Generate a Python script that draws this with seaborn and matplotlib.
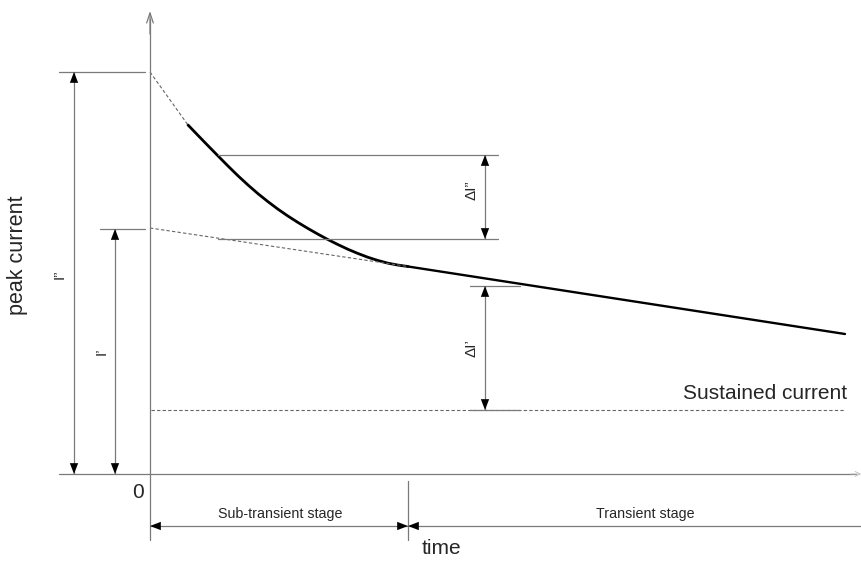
import matplotlib
matplotlib.use("Agg")
import matplotlib.pyplot as plt
import seaborn as sns

sns.set_theme(style="white")
plt.rcParams['font.family'] = ['Liberation Sans', 'DejaVu Sans']

# ---- data (schematic units: time along x, current along y) ----
sub_t = [38, 48, 58, 68, 78, 88, 98, 108, 118, 128, 138, 148,
         158, 168, 178, 188, 198, 208, 218, 228, 238, 248, 258]
sub_i = [349, 338.6, 328.3, 318.1, 308, 298.2, 289, 280.3, 272.3, 264.8, 257.9, 251.5,
         245.5, 239.8, 234.4, 229.4, 224.7, 220.5, 216.7, 213.5, 210.8, 208.9, 207.5]
tr_t = [258, 695]
tr_i = [207.5, 140]
ext_sub_t = [0, 38]
ext_sub_i = [402, 349]
ext_tr_t = [0, 258]
ext_tr_i = [246, 207.5]
i_peak2 = 402      # I''
i_peak1 = 245      # I'
i_sust = 64        # sustained current
t_stage = 258      # end of sub-transient stage
t_end = 712
dI2_levels = [319, 235]
dI1_levels = [188, 64]
stage_labels = ["Sub-transient stage", "Transient stage"]

fig = plt.figure(figsize=(8.62, 5.63), dpi=100)
ax = fig.add_axes([0, 0, 1, 1])
ax.set_xlim(-150, 712)
ax.set_ylim(-89, 474)
ax.axis("off")

gray = "#7a7a7a"
thin = 0.9

# curves
sns.lineplot(x=sub_t, y=sub_i, ax=ax, color="black", linewidth=2.0, sort=False)
sns.lineplot(x=tr_t, y=tr_i, ax=ax, color="black", linewidth=1.7, sort=False)
sns.lineplot(x=ext_sub_t, y=ext_sub_i, ax=ax, color="#666666", linewidth=0.8,
             linestyle=(0, (3, 2)), sort=False)
sns.lineplot(x=ext_tr_t, y=ext_tr_i, ax=ax, color="#666666", linewidth=0.8,
             linestyle=(0, (3, 2)), sort=False)
ax.plot([1, 695], [i_sust, i_sust], color="#666666", lw=0.8, ls=(0, (3, 2)))

# axes
ax.plot([0, 0], [-66, 455], color=gray, lw=thin)
ax.annotate("", xy=(0, 463), xytext=(0, 440),
            arrowprops=dict(arrowstyle="->,head_length=0.6,head_width=0.2",
                            color=gray, lw=thin, shrinkA=0, shrinkB=0))
ax.plot([-91, 706], [0, 0], color=gray, lw=thin)
ax.annotate("", xy=(711, 0), xytext=(700, 0),
            arrowprops=dict(arrowstyle="->,head_length=0.3,head_width=0.15",
                            color="#bbbbbb", lw=0.6, shrinkA=0, shrinkB=0))

# level lines
ax.plot([-91, -5], [i_peak2, i_peak2], color=gray, lw=thin)
ax.plot([-50, -5], [i_peak1, i_peak1], color=gray, lw=thin)
for lv in dI2_levels:
    ax.plot([68, 348], [lv, lv], color=gray, lw=thin)
for lv in dI1_levels:
    ax.plot([320, 370], [lv, lv], color=gray, lw=thin)


def dim_arrow(p0, p1, style="<|-|>,head_length=0.65,head_width=0.25"):
    ax.annotate("", xy=p1, xytext=p0,
                arrowprops=dict(arrowstyle=style, color="black", lw=0,
                                shrinkA=0, shrinkB=0))
    ax.plot([p0[0], p1[0]], [p0[1], p1[1]], color=gray, lw=thin)


dim_arrow((-76, 0), (-76, i_peak2))
dim_arrow((-35, 0), (-35, i_peak1))
dim_arrow((335, dI2_levels[1]), (335, dI2_levels[0]))
dim_arrow((335, dI1_levels[1]), (335, dI1_levels[0]))

# stage dimension
ax.plot([t_stage, t_stage], [-7, -66], color=gray, lw=thin)
dim_arrow((0, -52), (t_stage, -52))
dim_arrow((t_end, -52), (t_stage, -52), style="-|>,head_length=0.65,head_width=0.25")

# labels
ax.text(-90, 200, "I\u201d", rotation=90, ha="center", va="center", fontsize=11)
ax.text(-48, 123, "I\u2019", rotation=90, ha="center", va="center", fontsize=11)
ax.text(322, 284, "\u0394I\u201d", rotation=90, ha="center", va="center", fontsize=11)
ax.text(322, 126, "\u0394I\u2019", rotation=90, ha="center", va="center", fontsize=11)
ax.text(697, 71, "Sustained current", ha="right", va="bottom", fontsize=15)
ax.text(-6, -19, "0", ha="right", va="center", fontsize=15)
ax.text(130, -40, stage_labels[0], ha="center", va="center", fontsize=10.3)
ax.text(495, -40, stage_labels[1], ha="center", va="center", fontsize=10.3)
ax.text(291, -75, "time", ha="center", va="center", fontsize=15)
ax.text(-132, 219, "peak current", rotation=90, ha="center", va="center", fontsize=15.5)

fig.savefig("out.png", dpi=100)
